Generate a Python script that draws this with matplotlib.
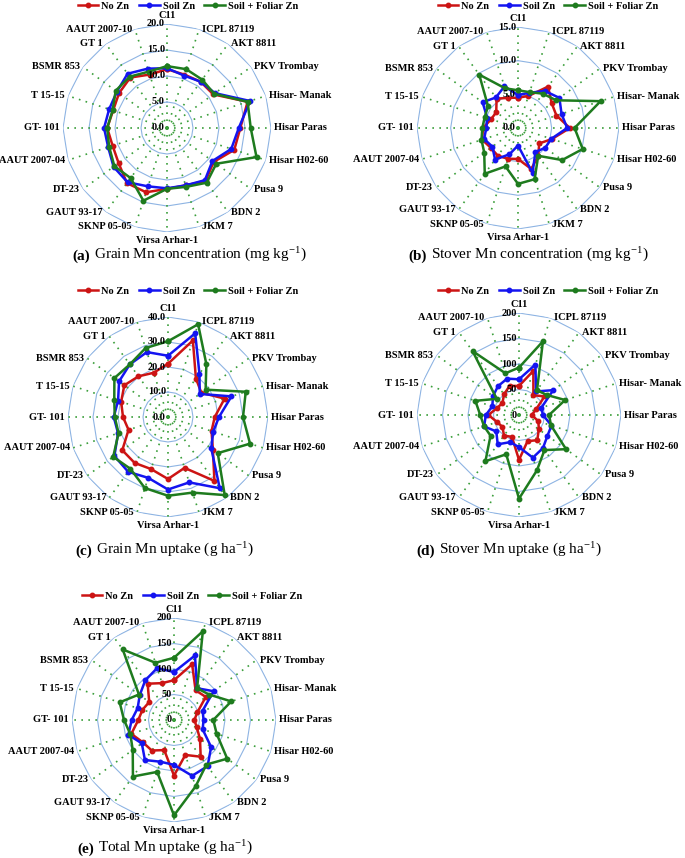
import numpy as np
import matplotlib.pyplot as plt

plt.rcParams['font.family'] = 'Liberation Serif'
plt.rcParams['mathtext.fontset'] = 'stix'

genotypes = ['C11', 'ICPL 87119', 'AKT 8811', 'PKV Trombay', 'Hisar- Manak', 'Hisar Paras',
             'Hisar H02-60', 'Pusa 9', 'BDN 2', 'JKM 7', 'Virsa Arhar-1', 'SKNP 05-05',
             'GAUT 93-17', 'DT-23', 'AAUT 2007-04', 'GT- 101', 'T 15-15', 'BSMR 853',
             'GT 1', 'AAUT 2007-10']
treatments = ['No Zn', 'Soil Zn', 'Soil + Foliar Zn']

# (a) grain Mn concentration, mg/kg
grain_conc_no = [11.3, 10.8, 11.0, 11.0, 16.3, 14.1, 13.6, 11.1, 12.6, 11.6,
                 11.7, 13.0, 13.1, 11.5, 11.0, 11.5, 10.9, 11.4, 12.0, 10.8]
grain_conc_soil = [11.5, 10.6, 11.0, 11.4, 16.8, 13.8, 13.0, 10.8, 12.4, 11.6,
                   11.6, 11.8, 12.9, 12.7, 11.9, 12.1, 11.7, 11.9, 12.9, 12.0]
grain_conc_foliar = [11.9, 11.9, 11.5, 11.2, 16.3, 16.1, 18.1, 11.7, 13.0, 11.9,
                     11.7, 14.7, 11.9, 12.5, 11.7, 11.5, 11.0, 12.2, 12.2, 11.4]

# (b) stover Mn concentration, mg/kg
stover_conc_no = [4.5, 5.0, 7.6, 6.2, 6.0, 7.7, 5.3, 3.9, 5.1, 6.4,
                  4.6, 4.8, 5.1, 5.0, 5.6, 5.2, 4.2, 4.0, 5.4, 4.7]
stover_conc_soil = [4.9, 5.5, 6.8, 7.6, 6.8, 7.3, 5.2, 5.0, 4.4, 7.0,
                    2.6, 4.1, 5.8, 4.7, 5.3, 4.7, 4.8, 6.5, 5.6, 6.5]
stover_conc_foliar = [5.6, 5.6, 6.3, 7.0, 12.9, 8.4, 10.1, 8.1, 5.1, 8.0,
                      8.3, 6.0, 8.4, 6.2, 5.7, 5.3, 5.2, 5.5, 9.8, 6.2]

# (c) grain Mn uptake, g/ha
grain_up_no = [21.3, 32.2, 19.0, 16.5, 23.8, 18.7, 18.3, 22.2, 31.6, 21.4,
               24.8, 21.9, 22.7, 22.6, 16.6, 18.0, 19.7, 21.6, 20.1, 18.6]
grain_up_soil = [24.5, 35.2, 21.4, 15.7, 26.7, 20.4, 19.0, 21.4, 35.2, 27.5,
                 29.0, 25.6, 27.1, 26.5, 21.0, 21.7, 21.0, 24.2, 26.0, 27.3]
grain_up_foliar = [30.3, 39.0, 26.1, 18.6, 32.7, 30.0, 34.5, 24.6, 38.6, 31.8,
                   31.5, 29.9, 25.6, 27.1, 20.8, 21.3, 22.6, 26.5, 26.0, 29.0]

# (d) stover Mn uptake, g/ha
stover_up_no = [57, 91, 48, 62, 35, 25, 40, 48, 61, 54,
                88, 45, 50, 40, 45, 60, 45, 40, 50, 60]
stover_up_soil = [70, 104, 57, 83, 46, 47, 67, 69, 80, 88,
                  63, 56, 71, 55, 72, 65, 55, 63, 70, 75]
stover_up_foliar = [93, 152, 60, 67, 95, 59, 66, 114, 85, 114,
                    164, 81, 112, 69, 72, 76, 90, 54, 155, 86]

# (e) total Mn uptake, g/ha
total_up_no = [78, 115, 72, 77, 48, 40, 47, 63, 89, 72,
               109, 62, 74, 75, 88, 70, 65, 60, 88, 76]
total_up_soil = [94, 133, 77, 96, 59, 58, 59, 90, 112, 115,
                 88, 86, 97, 78, 94, 83, 75, 83, 96, 107]
total_up_foliar = [122, 183, 77, 85, 118, 77, 88, 129, 108, 137,
                   187, 107, 137, 100, 90, 98, 112, 85, 171, 118]

colors = ['#CC1414', '#1414F0', '#1E7B1E']
W, H = 685, 858


def radar(center, radius, series, ticks, fmt, tag, title, title_pos, legend_pos):
    cx, cy = center
    ax = fig.add_axes([(cx - radius) / W, (H - cy - radius) / H, 2 * radius / W, 2 * radius / H],
                      projection='polar')
    ax.set_theta_zero_location('N')
    ax.set_theta_direction(-1)
    ax.set_ylim(0, ticks[-1])
    ax.grid(False)
    ax.set_xticks([])
    ax.set_yticks([])
    ax.spines['polar'].set_visible(False)
    ax.patch.set_alpha(0)

    n = len(genotypes)
    theta = np.arange(n) * 2 * np.pi / n
    tc = np.append(theta, theta[0])

    # polygon gridlines and dotted spokes
    for t in ticks[1:]:
        ax.plot(tc, [t] * (n + 1), color='#8EB4E3', lw=0.8, zorder=1)
    for a in theta:
        ax.plot([a, a], [0, ticks[-1]], color='#3A9E3A', lw=1.2, ls=(0, (1, 3.2)), zorder=1)

    for vals, c, lab in zip(series, colors, treatments):
        v = np.append(vals, vals[0])
        ax.plot(tc, v, color=c, lw=1.8, marker='o', ms=3.2, label=lab, zorder=3)

    for t in ticks:
        ax.annotate(fmt % t, xy=(0, t), xytext=(-1.5, 0), textcoords='offset points',
                    ha='right', va='center', fontsize=7.5, fontweight='bold', zorder=4)

    for a, name in zip(theta, genotypes):
        s, c = np.sin(a), np.cos(a)
        if abs(s) < 0.05:
            ha = 'center'
            va = 'bottom' if c > 0 else 'top'
            off = (0, 3 if c > 0 else -3)
        else:
            ha = 'left' if s > 0 else 'right'
            va = 'center'
            off = (2.2 if s > 0 else -2.2, 0)
        ax.annotate(name, xy=(a, ticks[-1]), xytext=off, textcoords='offset points',
                    ha=ha, va=va, fontsize=7.5, fontweight='bold', annotation_clip=False)

    ax.legend(loc='center', bbox_to_anchor=(legend_pos[0] / W, 1 - legend_pos[1] / H),
              bbox_transform=fig.transFigure, ncol=3, frameon=False,
              prop={'weight': 'bold', 'size': 7.5}, handlelength=2.0, handletextpad=0.3,
              columnspacing=0.9, borderaxespad=0, borderpad=0)

    t1 = fig.text(title_pos[0] / W, 1 - title_pos[1] / H, tag, fontsize=11,
                  fontweight='bold', ha='left', va='center')
    ax.annotate(title, xy=(1, 0), xycoords=t1, xytext=(3, 0), textcoords='offset points',
                ha='left', va='bottom', fontsize=11)
    return ax


fig = plt.figure(figsize=(W / 100, H / 100), dpi=100)

radar((167, 128), 104, [grain_conc_no, grain_conc_soil, grain_conc_foliar],
      [0, 5, 10, 15, 20], '%.1f', '(a)', r'Grain Mn concentration (mg kg$^{\mathregular{-1}}$)',
      (72, 256), (188, 6))
radar((518, 128), 101, [stover_conc_no, stover_conc_soil, stover_conc_foliar],
      [0, 5, 10, 15], '%.1f', '(b)', r'Stover Mn concentration (mg kg$^{\mathregular{-1}}$)',
      (408, 256), (548, 6))
radar((168, 417), 100, [grain_up_no, grain_up_soil, grain_up_foliar],
      [0, 10, 20, 30, 40], '%.1f', '(c)', r'Grain Mn uptake (g ha$^{\mathregular{-1}}$)',
      (75, 551), (188, 291))
radar((519, 415), 102, [stover_up_no, stover_up_soil, stover_up_foliar],
      [0, 50, 100, 150, 200], '%d', '(d)', r'Stover Mn uptake (g ha$^{\mathregular{-1}}$)',
      (416, 551), (548, 291))
radar((174, 720), 102, [total_up_no, total_up_soil, total_up_foliar],
      [0, 50, 100, 150, 200], '%d', '(e)', r'Total Mn uptake (g ha$^{\mathregular{-1}}$)',
      (77, 849), (192, 596))

fig.savefig('out.png', dpi=100)
